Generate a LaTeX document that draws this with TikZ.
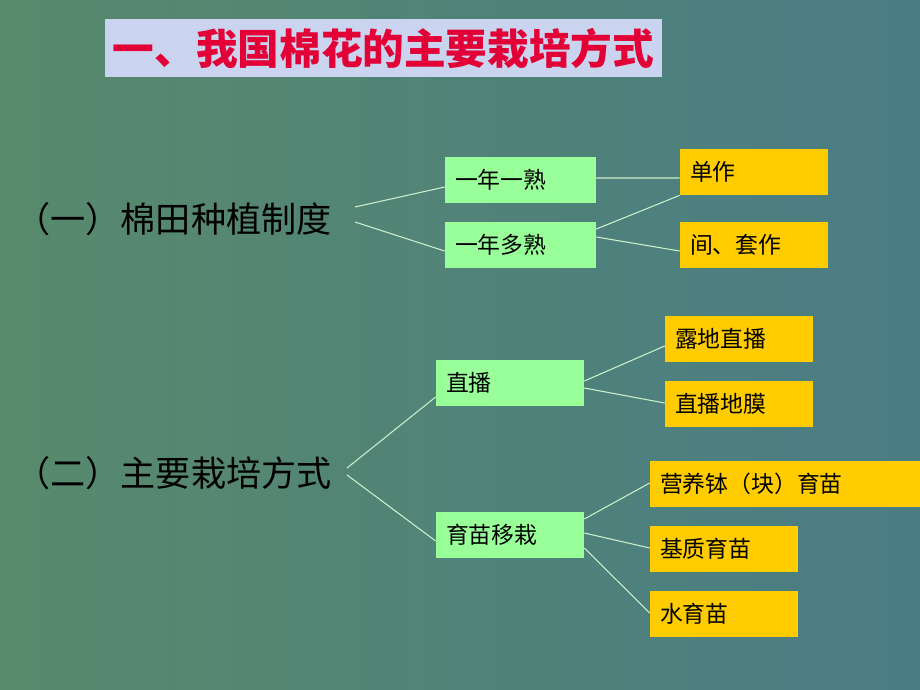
\documentclass[tikz,border=0pt]{standalone}
\usepackage{fontspec}
\newfontfamily\cjk{Noto Sans CJK SC}
\definecolor{bg_left}{RGB}{88,138,108}
\definecolor{bg_right}{RGB}{74,124,132}
\definecolor{box_green}{RGB}{153,255,153}
\definecolor{box_gold}{RGB}{255,204,0}
\definecolor{title_bg}{RGB}{202,212,238}
\definecolor{title_red}{RGB}{226,0,54}
\definecolor{link}{RGB}{205,240,205}
\tikzstyle{gb}=[rectangle,fill=box_green,inner xsep=0.2cm,inner ysep=0pt,
  minimum height=0.92cm,align=left,text width=2.62cm,
  font=\cjk\fontsize{13}{15}\selectfont]
\tikzstyle{yb}=[rectangle,fill=box_gold,inner xsep=0.2cm,inner ysep=0pt,
  minimum height=0.92cm,align=left,text width=2.56cm,
  font=\cjk\fontsize{13}{15}\selectfont]
\tikzstyle{head}=[anchor=west,inner sep=0pt,font=\cjk\fontsize{20}{24}\selectfont]
\tikzstyle{lk}=[draw=link,line width=0.6pt]

\begin{document}
\begin{tikzpicture}[x=0.02cm,y=-0.02cm]
    \useasboundingbox (0,0) rectangle (920,690);
    \shade [left color=bg_left,right color=bg_right] (0,0) rectangle (920,690);
    \node [fill=title_bg,inner sep=0pt,minimum width=11.14cm,minimum height=1.16cm,text=title_red,
      font=\cjk\bfseries\fontsize{23.7}{28}\selectfont] (title) at (383.5,48) {一、我国棉花的主要栽培方式};
    % part one
    \node [style=head] (sys) at (15,219) {（一）棉田种植制度};
    \coordinate (sys_a) at (355,207);
    \coordinate (sys_b) at (355,222);
    \node [style=gb] (one1) at (520.5,180) {一年一熟};
    \node [style=gb] (one2) at (520.5,245) {一年多熟};
    \node [style=yb] (dan) at (754,172) {单作};
    \node [style=yb] (jian) at (754,245) {间、套作};
    \draw [style=lk] (sys_a) to ([yshift=-0.14cm]one1.west);
    \draw [style=lk] (sys_b) to ([yshift=-0.12cm]one2.west);
    \draw [style=lk] ([yshift=0.04cm]one1.east) to ([yshift=-0.12cm]dan.west);
    \draw [style=lk] ([yshift=0.32cm]one2.east) to (dan.south west);
    \draw [style=lk] ([yshift=0.16cm]one2.east) to ([yshift=-0.12cm]jian.west);
    % part two
    \node [style=head] (way) at (15,473) {（二）主要栽培方式};
    \coordinate (way_a) at (347,468);
    \coordinate (way_b) at (347,475);
    \node [style=gb,text width=2.56cm] (zb) at (510,383) {直播};
    \node [style=gb,text width=2.56cm] (ym) at (510,535) {育苗移栽};
    \node [style=yb] (ld) at (739,339) {露地直播};
    \node [style=yb] (dm) at (739,404) {直播地膜};
    \node [style=yb,text width=5cm] (yyb) at (785,484) {营养钵（块）育苗};
    \node [style=yb] (jz) at (724,549) {基质育苗};
    \node [style=yb] (sy) at (724,614) {水育苗};
    \draw [style=lk] (way_a) to ([yshift=-0.28cm]zb.west);
    \draw [style=lk] (way_b) to ([yshift=-0.12cm]ym.west);
    \draw [style=lk] ([yshift=0.04cm]zb.east) to ([yshift=-0.14cm]ld.west);
    \draw [style=lk] ([yshift=-0.1cm]zb.east) to ([yshift=0.02cm]dm.west);
    \draw [style=lk] ([yshift=0.32cm]ym.east) to ([yshift=0.02cm]yyb.west);
    \draw [style=lk] ([yshift=0.04cm]ym.east) to ([yshift=0.02cm]jz.west);
    \draw [style=lk] ([yshift=-0.26cm]ym.east) to ([yshift=0.02cm]sy.west);
\end{tikzpicture}
\end{document}
